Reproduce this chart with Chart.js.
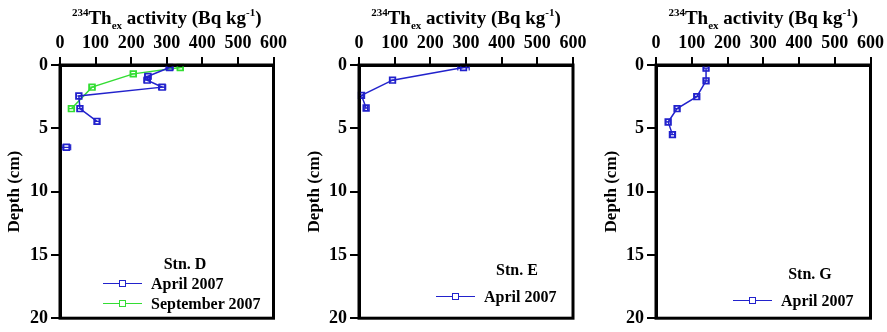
<!DOCTYPE html>
<html>
<head>
<meta charset="utf-8">
<script src="https://cdn.jsdelivr.net/npm/chart.js@4/dist/chart.umd.min.js"></script>
<style>
  body { margin: 0; background: #fff; }
  #wrap { position: relative; width: 887px; height: 332px; overflow: hidden; font-family: "Liberation Serif", "Times New Roman", serif; font-weight: bold; color: #000; }
  canvas { position: absolute; top: 0; }
  .ttl { position: absolute; top: 7px; width: 240px; text-align: center; font-size: 19px; line-height: 22px; white-space: nowrap; }
  .ttl sup { font-size: 11px; vertical-align: 0; position: relative; top: -8px; }
  .ttl sub { font-size: 11px; vertical-align: 0; position: relative; top: 5px; }
  .stn { position: absolute; font-size: 16px; transform: translate(-50%, -50%); white-space: nowrap; }
  .row { position: absolute; height: 20px; font-size: 16px; line-height: 20px; white-space: nowrap; }
  .row .ln { position: absolute; left: 0; top: 9px; width: 39px; height: 0; border-top: 1.5px solid; }
  .row .mk { position: absolute; left: 16px; top: 6px; width: 5px; height: 5px; border: 1.5px solid; background: #fff; }
  .row .tx { position: absolute; left: 48px; top: 0; }
</style>
</head>
<body>
<div id="wrap">
  <canvas id="cD" width="290" height="332" style="left:0px"></canvas>
  <canvas id="cE" width="290" height="332" style="left:300px"></canvas>
  <canvas id="cG" width="290" height="332" style="left:597px"></canvas>
</div>
<script>
// axis ticks
const xTicks = [0, 100, 200, 300, 400, 500, 600];
const yTicks = [0, 5, 10, 15, 20];

// Stn. D, April 2007
const depthD_apr = [0.2, 0.9, 1.2, 1.75, 2.45, 3.45, 4.45, 6.5];
const thD_apr = [308, 247, 245, 287, 53, 56, 104, 18];
const errD_apr = [10, 9, 9, 10, 7, 7, 6, 12];
const joinD_apr = [true, true, true, true, true, true, true, false];

// Stn. D, September 2007
const depthD_sep = [0.2, 0.7, 1.75, 3.45];
const thD_sep = [338, 206, 90, 32];
const errD_sep = [8, 8, 8, 8];

// Stn. E, April 2007
const depthE_apr = [0.2, 1.2, 2.4, 3.4];
const thE_apr = [293, 94, 7, 20];
const errE_apr = [16, 8, 6, 4];

// Stn. G, April 2007
const depthG_apr = [0.25, 1.25, 2.5, 3.45, 4.5, 5.5];
const thG_apr = [140, 140, 114, 59, 34, 46];
const errG_apr = [6, 6, 6, 6, 6, 6];

const blue = '#2222cc';
const green = '#33dd33';

function pts(xs, ys) {
  return xs.map((v, i) => ({ x: v, y: ys[i] }));
}

function series(label, color, xs, ys, err, join) {
  return {
    label: label,
    data: pts(xs, ys),
    err: err,
    borderColor: color,
    backgroundColor: 'rgba(255,255,255,0)',
    borderWidth: 1.5,
    pointStyle: 'rect',
    pointRadius: 4,
    pointBorderWidth: 1.7,
    pointBackgroundColor: 'rgba(255,255,255,0)',
    pointBorderColor: color,
    tension: 0,
    clip: false,
    segment: join ? { borderColor: c => join[c.p1DataIndex] ? color : 'rgba(0,0,0,0)' } : undefined
  };
}

// horizontal error bars
const errorBars = {
  id: 'errorBars',
  afterDatasetsDraw(chart) {
    const ctx = chart.ctx;
    const xs = chart.scales.x, ys = chart.scales.y;
    chart.data.datasets.forEach(ds => {
      if (!ds.err) return;
      ctx.save();
      ctx.strokeStyle = ds.borderColor;
      ctx.lineWidth = 1.2;
      ds.data.forEach((p, i) => {
        const y = ys.getPixelForValue(p.y);
        const x1 = xs.getPixelForValue(p.x - ds.err[i]);
        const x2 = xs.getPixelForValue(p.x + ds.err[i]);
        ctx.beginPath();
        ctx.moveTo(x1, y); ctx.lineTo(x2, y);
        ctx.moveTo(x1, y - 3); ctx.lineTo(x1, y + 3);
        ctx.moveTo(x2, y - 3); ctx.lineTo(x2, y + 3);
        ctx.stroke();
      });
      ctx.restore();
    });
  }
};

// box round the plot area
const frame = {
  id: 'frame',
  afterDraw(chart) {
    const a = chart.chartArea, ctx = chart.ctx;
    ctx.save();
    ctx.strokeStyle = '#000';
    ctx.lineWidth = 3;
    ctx.strokeRect(a.left, a.top, a.right - a.left, a.bottom - a.top);
    ctx.restore();
  }
};

const tickFont = { family: '"Liberation Serif", serif', size: 18, weight: 'bold' };

function makeChart(id, datasets, leftW, padRight) {
  return new Chart(document.getElementById(id), {
    type: 'line',
    data: { datasets: datasets },
    options: {
      responsive: false,
      animation: false,
      layout: { padding: { left: 0, top: 0, right: padRight, bottom: 10 } },
      plugins: { legend: { display: false }, tooltip: { enabled: false } },
      scales: {
        x: {
          type: 'linear', position: 'top', min: 0, max: 600,
          afterBuildTicks: s => { s.ticks = xTicks.map(v => ({ value: v })); },
          afterFit: s => { s.height = 65; },
          grid: { drawOnChartArea: false, tickLength: 8, color: '#000', lineWidth: 2 },
          border: { color: '#000', width: 3 },
          ticks: { color: '#000', font: tickFont, padding: 3, maxRotation: 0 }
        },
        y: {
          type: 'linear', reverse: true, min: 0, max: 20,
          afterBuildTicks: s => { s.ticks = yTicks.map(v => ({ value: v })); },
          afterFit: s => { s.width = leftW; },
          grid: { drawOnChartArea: false, tickLength: 9, color: '#000', lineWidth: 2 },
          border: { color: '#000', width: 3 },
          ticks: { color: '#000', font: tickFont, padding: 3 },
          title: { display: true, text: 'Depth (cm)', color: '#000', padding: { top: 4, bottom: 0 },
                   font: { family: '"Liberation Serif", serif', size: 17, weight: 'bold' } }
        }
      }
    },
    plugins: [errorBars, frame]
  });
}

const chartD = makeChart('cD', [
  series('April 2007', blue, thD_apr, depthD_apr, errD_apr, joinD_apr),
  series('September 2007', green, thD_sep, depthD_sep, errD_sep)
], 60, 15);
const chartE = makeChart('cE', [
  series('April 2007', blue, thE_apr, depthE_apr, errE_apr)
], 59, 17);
const chartG = makeChart('cG', [
  series('April 2007', blue, thG_apr, depthG_apr, errG_apr)
], 59, 15);

// titles and in-plot legends (HTML text)
const wrap = document.getElementById('wrap');
function addTitle(chart, offset) {
  const a = chart.chartArea;
  const d = document.createElement('div');
  d.className = 'ttl';
  d.style.left = (offset + (a.left + a.right) / 2 - 120) + 'px';
  d.innerHTML = '<sup>234</sup>Th<sub>ex</sub> activity (Bq kg<sup>-1</sup>)';
  wrap.appendChild(d);
}
function addLegend(chart, name, stnX, stnY, lnX, rowY) {
  const s = document.createElement('div');
  s.className = 'stn';
  s.style.left = stnX + 'px';
  s.style.top = stnY + 'px';
  s.textContent = name;
  wrap.appendChild(s);
  chart.data.datasets.forEach((ds, i) => {
    const r = document.createElement('div');
    r.className = 'row';
    r.style.left = lnX + 'px';
    r.style.top = (rowY + i * 20 - 10) + 'px';
    r.innerHTML = '<div class="ln" style="border-color:' + ds.borderColor + '"></div>' +
                  '<div class="mk" style="border-color:' + ds.borderColor + '"></div>' +
                  '<div class="tx">' + ds.label + '</div>';
    wrap.appendChild(r);
  });
}
addTitle(chartD, 0);
addTitle(chartE, 300);
addTitle(chartG, 597);
addLegend(chartD, 'Stn. D', 185, 264, 103, 284);
addLegend(chartE, 'Stn. E', 517, 270, 436, 297);
addLegend(chartG, 'Stn. G', 810, 274, 733, 301);
</script>
</body>
</html>
